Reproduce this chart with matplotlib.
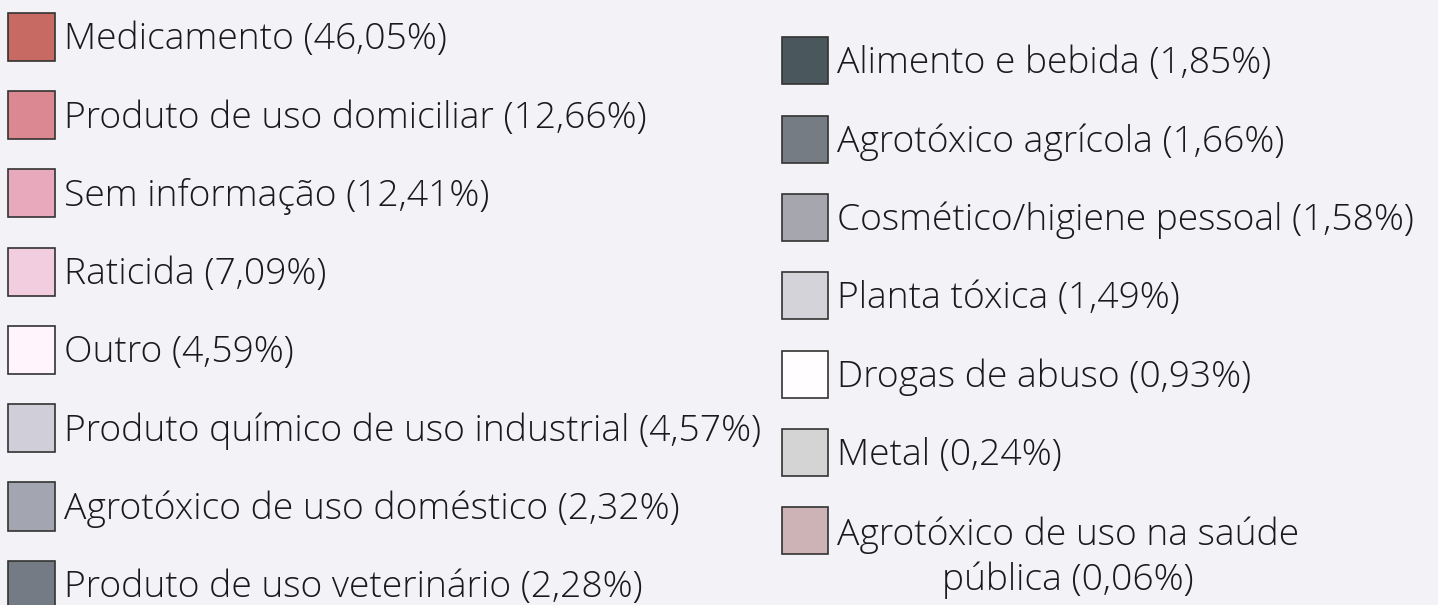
import matplotlib
matplotlib.use("Agg")
from matplotlib import pyplot as plt
from matplotlib.patches import Rectangle

left_labels = ["Medicamento", "Produto de uso domiciliar", "Sem informação", "Raticida",
               "Outro", "Produto químico de uso industrial", "Agrotóxico de uso doméstico",
               "Produto de uso veterinário"]
left_values = ["46,05", "12,66", "12,41", "7,09", "4,59", "4,57", "2,32", "2,28"]
left_colors = ["#c86a64", "#dc8892", "#e8a9bd", "#f2cde0", "#fff4fb", "#d0ced8",
               "#a3a5b0", "#747b85"]

right_labels = ["Alimento e bebida", "Agrotóxico agrícola", "Cosmético/higiene pessoal",
                "Planta tóxica", "Drogas de abuso", "Metal",
                "Agrotóxico de uso na saúde\npública"]
right_values = ["1,85", "1,66", "1,58", "1,49", "0,93", "0,24", "0,06"]
right_colors = ["#4a575d", "#767c84", "#a6a6ae", "#d5d3da", "#fffdff", "#d4d4d4",
                "#cdb3b5"]

bg = "#f2f2f7"
FS = 26.8
LS = 1.25
fig = plt.figure(figsize=[14.38, 6.05], dpi=100, facecolor=bg)
ax = fig.add_axes([0, 0, 1, 1])
ax.set_xlim(0, 1438)
ax.set_ylim(605, 0)
ax.axis("off")

def column(labels, values, colors, x0, top0, step=78.3, size=47):
    line_px = FS * LS * 100 / 72
    for i, (lab, val, col) in enumerate(zip(labels, values, colors)):
        top = top0 + i * step
        ax.add_patch(Rectangle((x0, top), size, size + 1, facecolor=col,
                               edgecolor="#333333", linewidth=1.2))
        #* baseline goes on the last line, so push wrapped labels down
        extra = lab.count("\n") * line_px
        ax.text(x0 + size + 9, top + size / 2 + 13 + extra, f"{lab} ({val}%)",
                ha="left", va="baseline", fontsize=FS, family="Open Sans",
                fontweight="light", color="#1a1a1a", multialignment="center",
                linespacing=LS)

column(left_labels, left_values, left_colors, 8.3, 12.7)
column(right_labels, right_values, right_colors, 782, 37.3, size=46)

plt.savefig("out.png", dpi=100, facecolor=bg)
